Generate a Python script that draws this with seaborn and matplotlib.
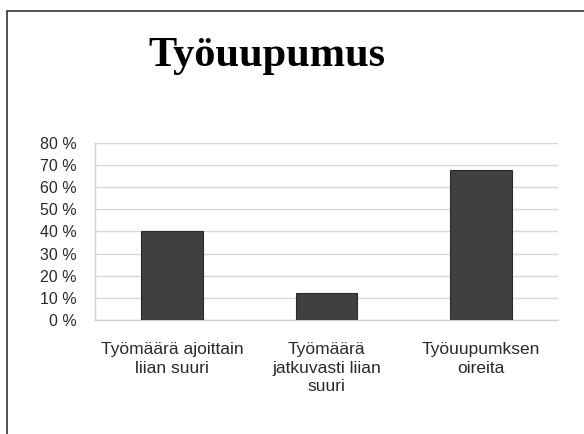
import numpy as np
import pandas as pd
import seaborn as sns
import matplotlib.pyplot as plt
from matplotlib.patches import Rectangle
from matplotlib.ticker import FixedLocator

# data
categories = ['Työmäärä ajoittain\nliian suuri',
              'Työmäärä\njatkuvasti liian\nsuuri',
              'Työuupumksen\noireita']
values = [40, 12, 68]
y_ticks = [0, 10, 20, 30, 40, 50, 60, 70, 80]
y_labels = ['%d %%' % t for t in y_ticks]

df = pd.DataFrame({'kategoria': categories, 'osuus': values})

sns.set_style('white')
plt.rcParams['font.family'] = ['Liberation Sans', 'DejaVu Sans']

fig = plt.figure(figsize=(5.84, 4.34), dpi=100)
ax = fig.add_axes([0.1627, 0.2627, 0.7928, 0.4078])

sns.barplot(data=df, x='kategoria', y='osuus', color='#404040',
            width=0.4, edgecolor='#2a2a2a', linewidth=0.8, ax=ax, zorder=3)

ax.set_ylim(0, 80)
ax.set_xlim(-0.5, 2.5)
ax.set_yticks(y_ticks)
ax.set_yticklabels(y_labels, fontsize=11.5, color='#2a2a2a')
ax.yaxis.grid(True, color='#d9d9d9', linewidth=1, zorder=0)
ax.set_axisbelow(True)
ax.tick_params(axis='y', length=5, color='#d0d0d0', pad=8)
ax.tick_params(axis='x', which='major', length=0, pad=16)
for lbl in ax.get_xticklabels():
    lbl.set_fontsize(12.5)
    lbl.set_color('#2a2a2a')
    lbl.set_linespacing(1.3)
ax.xaxis.set_minor_locator(FixedLocator([-0.5, 0.5, 1.5, 2.5]))
ax.tick_params(axis='x', which='minor', length=5, color='#d0d0d0')
ax.set_xlabel('')
ax.set_ylabel('')

for s in ['top', 'right']:
    ax.spines[s].set_visible(False)
for s in ['left', 'bottom']:
    ax.spines[s].set_color('#d0d0d0')
    ax.spines[s].set_linewidth(1)

# otsikko
fig.text(0.457, 0.872, 'Työuupumus', ha='center', va='center', color='black',
         fontsize=30.5, fontweight='bold', family=['Liberation Serif', 'DejaVu Serif'])

# kehys
fig.patches.append(Rectangle((7 / 584, -0.1), 1.2, 1.1 - 11 / 434,
                             transform=fig.transFigure, fill=False,
                             edgecolor='#333333', linewidth=1.2))

fig.savefig('out.png', dpi=100)
